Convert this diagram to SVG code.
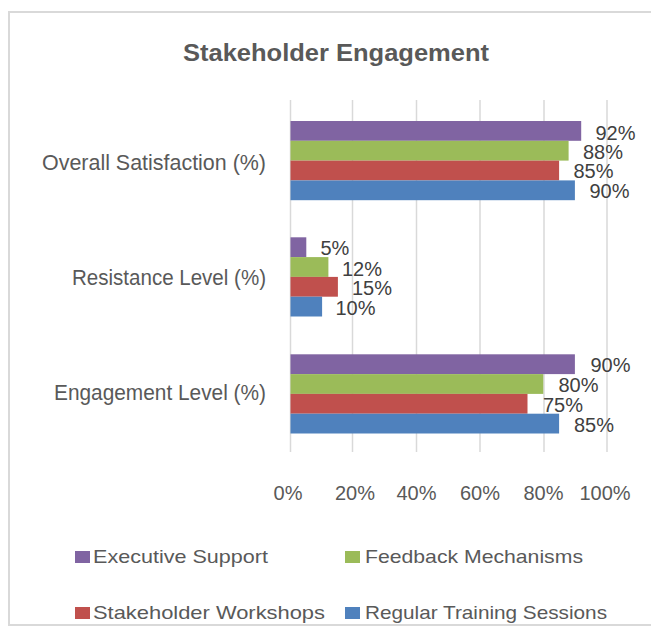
<svg xmlns="http://www.w3.org/2000/svg" width="651" height="630" viewBox="0 0 651 630">
<style>
  text { font-family: "Liberation Sans", Arial, sans-serif; }
  .title { font-size: 24px; font-weight: bold; fill: #595959; }
  .cat { font-size: 22px; fill: #595959; text-anchor: end; }
  .val { font-size: 20px; fill: #404040; }
  .axis { font-size: 20px; fill: #595959; text-anchor: middle; }
  .leg { font-size: 18.5px; fill: #595959; }
  .grid { stroke: #d9d9d9; stroke-width: 1.5; }
  .es { fill: #8064A2; }
  .fm { fill: #9BBB59; }
  .sw { fill: #C0504D; }
  .rt { fill: #4F81BD; }
</style>
<rect x="0" y="0" width="651" height="630" fill="#ffffff"/>
<rect id="frame" x="9" y="12" width="660" height="613" fill="#ffffff" stroke="#d9d9d9" stroke-width="2"/>
<text id="title" class="title" x="183" y="61" textLength="306" lengthAdjust="spacingAndGlyphs">Stakeholder Engagement</text>

<g id="gridlines">
  <line class="grid" x1="290.5" y1="100" x2="290.5" y2="452"/>
  <line class="grid" x1="352.5" y1="100" x2="352.5" y2="452"/>
  <line class="grid" x1="416.5" y1="100" x2="416.5" y2="452"/>
  <line class="grid" x1="480" y1="100" x2="480" y2="452"/>
  <line class="grid" x1="544" y1="100" x2="544" y2="452"/>
  <line class="grid" x1="607" y1="100" x2="607" y2="452"/>
</g>

<g id="category-labels">
  <text class="cat" x="266" y="169.5" textLength="224" lengthAdjust="spacingAndGlyphs">Overall Satisfaction (%)</text>
  <text class="cat" x="266" y="284.5" textLength="194" lengthAdjust="spacingAndGlyphs">Resistance Level (%)</text>
  <text class="cat" x="266" y="399.5" textLength="212" lengthAdjust="spacingAndGlyphs">Engagement Level (%)</text>
</g>

<g id="overall-satisfaction">
  <rect class="es" x="290.5" y="121" width="290.7" height="19.8"/>
  <rect class="fm" x="290.5" y="140.8" width="278.1" height="19.8"/>
  <rect class="sw" x="290.5" y="160.6" width="268.6" height="19.8"/>
  <rect class="rt" x="290.5" y="180.4" width="284.4" height="19.8"/>
  <text class="val" x="595.5" y="139.5">92%</text>
  <text class="val" x="583" y="158.5">88%</text>
  <text class="val" x="573.5" y="178">85%</text>
  <text class="val" x="589.5" y="197.5">90%</text>
</g>

<g id="resistance-level">
  <rect class="es" x="290.5" y="237.3" width="15.8" height="19.8"/>
  <rect class="fm" x="290.5" y="257.1" width="37.9" height="19.8"/>
  <rect class="sw" x="290.5" y="276.9" width="47.4" height="19.8"/>
  <rect class="rt" x="290.5" y="296.7" width="31.6" height="19.8"/>
  <text class="val" x="320.5" y="255.3">5%</text>
  <text class="val" x="342" y="275.5">12%</text>
  <text class="val" x="352" y="295">15%</text>
  <text class="val" x="335.5" y="315">10%</text>
</g>

<g id="engagement-level">
  <rect class="es" x="290.5" y="354.3" width="284.4" height="19.8"/>
  <rect class="fm" x="290.5" y="374.1" width="252.8" height="19.8"/>
  <rect class="sw" x="290.5" y="393.9" width="237" height="19.8"/>
  <rect class="rt" x="290.5" y="413.7" width="268.6" height="19.8"/>
  <text class="val" x="590.5" y="372">90%</text>
  <text class="val" x="558.5" y="392">80%</text>
  <text class="val" x="543" y="411.5">75%</text>
  <text class="val" x="574" y="431.5">85%</text>
</g>

<g id="axis-labels">
  <text class="axis" x="288" y="500">0%</text>
  <text class="axis" x="355" y="500">20%</text>
  <text class="axis" x="416.5" y="500">40%</text>
  <text class="axis" x="480" y="500">60%</text>
  <text class="axis" x="543.5" y="500">80%</text>
  <text class="axis" x="605" y="500">100%</text>
</g>

<g id="legend">
  <rect class="es" x="75" y="551" width="15" height="12"/>
  <text class="leg" x="93" y="563" textLength="175" lengthAdjust="spacingAndGlyphs">Executive Support</text>
  <rect class="fm" x="345" y="551" width="15" height="12"/>
  <text class="leg" x="365" y="563" textLength="218" lengthAdjust="spacingAndGlyphs">Feedback Mechanisms</text>
  <rect class="sw" x="75" y="607" width="15" height="12"/>
  <text class="leg" x="93" y="619" textLength="232" lengthAdjust="spacingAndGlyphs">Stakeholder Workshops</text>
  <rect class="rt" x="345" y="607" width="15" height="12"/>
  <text class="leg" x="365" y="619" textLength="242" lengthAdjust="spacingAndGlyphs">Regular Training Sessions</text>
</g>
</svg>
